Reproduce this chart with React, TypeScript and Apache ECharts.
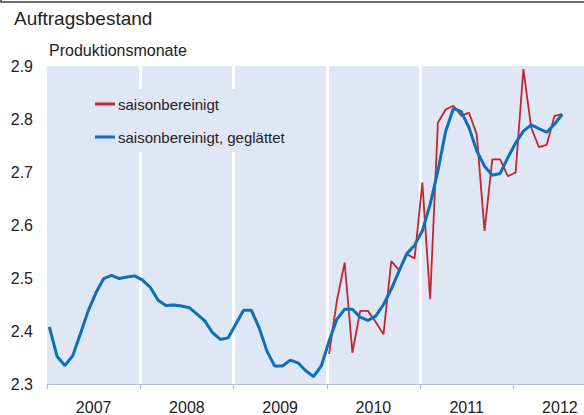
import React, { useEffect, useRef } from "react";
import * as echarts from "echarts";

const years = ["2007", "2008", "2009", "2010", "2011", "2012"];
const yTicks = [2.3, 2.4, 2.5, 2.6, 2.7, 2.8, 2.9];

// monthly values, Jan 2007 .. Jul 2012
const smoothed = [
  2.408, 2.352, 2.335, 2.353, 2.395, 2.438, 2.472, 2.499, 2.505, 2.499, 2.502, 2.504,
  2.496, 2.482, 2.458, 2.448, 2.449, 2.447, 2.444, 2.432, 2.419, 2.397, 2.384, 2.387,
  2.413, 2.439, 2.439, 2.406, 2.362, 2.334, 2.334, 2.345, 2.34, 2.325, 2.314, 2.334,
  2.381, 2.422, 2.441, 2.441, 2.426, 2.42, 2.428, 2.45, 2.479, 2.513, 2.546, 2.562,
  2.589, 2.639, 2.702, 2.777, 2.82, 2.814, 2.784, 2.74, 2.711, 2.694, 2.697, 2.727,
  2.755, 2.777, 2.789, 2.782, 2.775, 2.79, 2.809,
];

// monthly values, Jan 2010 .. Jul 2012
const adjustedStart = 36;
const adjusted = [
  2.357, 2.457, 2.529, 2.359, 2.438, 2.438, 2.417, 2.394, 2.532, 2.515, 2.545, 2.537,
  2.68, 2.46, 2.793, 2.818, 2.825, 2.806, 2.812, 2.771, 2.589, 2.724, 2.724, 2.692,
  2.699, 2.894, 2.784, 2.747, 2.751, 2.806, 2.809,
];

const MONTH_POS = 0.3;
const BG = "#e0e7f4";
const FONT = "Liberation Sans, Arial, sans-serif";
const RED = "#c3262e";
const BLUE = "#0a70be";

export default function App() {
  const ref = useRef<HTMLDivElement>(null);
  useEffect(() => {
    if (!ref.current) return;
    const chart = echarts.init(ref.current, null, { renderer: "svg" });
    const blueData = smoothed.map((v, i) => [i + MONTH_POS, v]);
    const redData = adjusted.map((v, i) => [adjustedStart + i + MONTH_POS, v]);
    chart.setOption({
      animation: false,
      backgroundColor: "#ffffff",
      textStyle: { fontFamily: FONT },
      title: [
        {
          text: "Auftragsbestand",
          left: 14,
          top: 9,
          padding: 0,
          textStyle: { fontSize: 19, fontWeight: "normal", color: "#222", fontFamily: FONT },
        },
        {
          text: "Produktionsmonate",
          left: 49,
          top: 42,
          padding: 0,
          textStyle: { fontSize: 16, fontWeight: "normal", color: "#222", fontFamily: FONT },
        },
      ],
      graphic: [
        {
          type: "polyline",
          shape: { points: [[1, 0], [1, 2], [584, 2]] },
          style: { stroke: "#444", lineWidth: 1.5, fill: null },
          silent: true,
        },
      ],
      legend: {
        orient: "vertical",
        left: 87,
        top: 89,
        padding: [7, 10, 7, 8],
        itemGap: 17,
        itemWidth: 20,
        itemHeight: 3,
        icon: "rect",
        backgroundColor: BG,
        textStyle: {
          fontSize: 15,
          lineHeight: 16,
          color: "#222",
          fontFamily: FONT,
          padding: [0, 0, 0, -2],
        },
        data: [
          { name: "saisonbereinigt", icon: "rect", itemStyle: { color: RED } },
          { name: "saisonbereinigt, geglättet", icon: "rect", itemStyle: { color: BLUE } },
        ],
      },
      grid: {
        left: 47,
        right: 0,
        top: 66,
        bottom: 31,
        show: true,
        backgroundColor: BG,
        borderWidth: 0,
      },
      xAxis: {
        type: "value",
        min: 0,
        max: 69.1,
        interval: 12,
        axisLine: { show: true, lineStyle: { color: "#a9bfdc", width: 1.2 } },
        axisTick: {
          show: true,
          length: 5,
          inside: false,
          lineStyle: { color: "#a9bfdc", width: 1.2 },
          customValues: [0, 12, 24, 36, 48, 60],
        },
        splitLine: {
          show: true,
          showMinLine: false,
          showMaxLine: false,
          lineStyle: { color: "#ffffff", width: 3 },
        },
        axisLabel: {
          customValues: years.map((_, i) => i * 12 + 6),
          formatter: (v: number) => years[Math.round((v - 6) / 12)] ?? "",
          fontSize: 16,
          color: "#222",
          margin: 15,
          fontFamily: FONT,
        },
      },
      yAxis: {
        type: "value",
        min: 2.3,
        max: 2.9,
        interval: 0.1,
        axisLine: { show: false },
        axisTick: { show: false },
        splitLine: { show: false },
        axisLabel: {
          customValues: yTicks,
          formatter: (v: number) => v.toFixed(1),
          fontSize: 16,
          color: "#222",
          margin: 14,
          fontFamily: FONT,
        },
      },
      series: [
        {
          name: "saisonbereinigt",
          type: "line",
          data: redData,
          symbol: "none",
          lineStyle: { color: RED, width: 1.8 },
          itemStyle: { color: RED },
          z: 2,
        },
        {
          name: "saisonbereinigt, geglättet",
          type: "line",
          data: blueData,
          symbol: "none",
          lineStyle: { color: BLUE, width: 3 },
          itemStyle: { color: BLUE },
          z: 3,
        },
      ],
    });
    return () => chart.dispose();
  }, []);
  return (
    <div
      ref={ref}
      style={{ position: "fixed", left: 0, top: 0, width: 584, height: 415 }}
    />
  );
}
